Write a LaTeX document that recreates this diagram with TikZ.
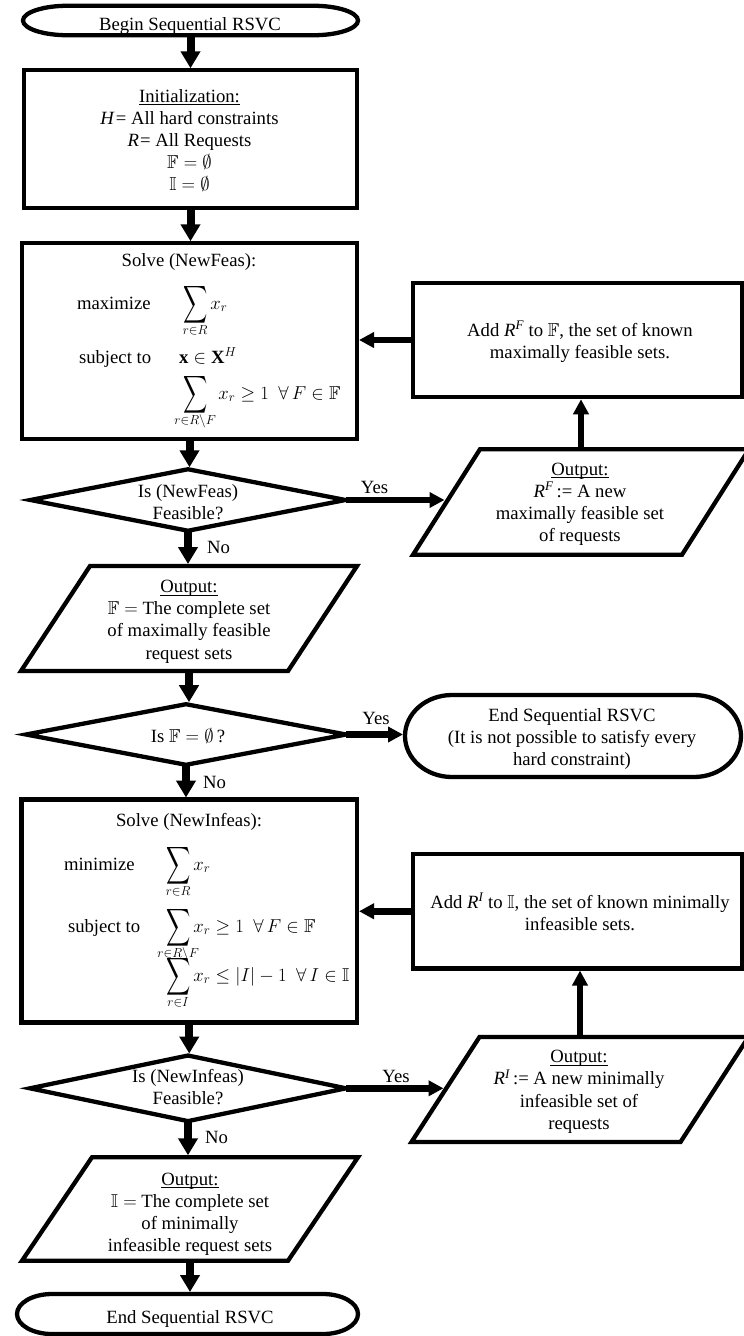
\documentclass[tikz,border=0pt]{standalone}
\usepackage{fix-cm}
\usepackage{amsmath,amssymb,mathtools}
\usepackage{graphicx}
\usepackage{fontspec}
\setmainfont{Liberation Serif}
\usetikzlibrary{arrows.meta}

\newsavebox\sigbox
\newcommand{\Bsum}[1]{\mathop{\sbox\sigbox{\scalebox{0.9}[1.4]{$\displaystyle\sum$}}%
  \vcenter{\hbox{\usebox\sigbox}}\kern-\wd\sigbox
  \makebox[\wd\sigbox]{\raisebox{-25pt}[0pt][0pt]{$\scriptstyle #1$}}}}
\newcommand{\ml}[1]{\begin{tabular}[t]{@{}c@{}}#1\end{tabular}}
\newcommand{\ul}[1]{\setbox0=\hbox{#1}\rlap{\rule[-3pt]{\wd0}{1pt}}\box0}
\newcommand{\termpath}[3]{%
  \draw[shp] ([xshift=#2]#1.north west) -- ([xshift=-#2]#1.north east)
    arc[start angle=90, end angle=-90, x radius=#2, y radius=#3]
    -- ([xshift=#2]#1.south west)
    arc[start angle=270, end angle=90, x radius=#2, y radius=#3] -- cycle;}
\newcommand{\parapath}[2]{%
  \draw[shp] ([xshift=#2]#1.north west) -- ([xshift=#2]#1.north east)
    -- ([xshift=-#2]#1.south east) -- ([xshift=-#2]#1.south west) -- cycle;}
\newcommand{\diapath}[1]{%
  \draw[shp] (#1.north) -- (#1.east) -- (#1.south) -- (#1.west) -- cycle;}

\tikzset{
  shp/.style={draw, line width=4.3pt, line join=miter},
  hlp/.style={inner sep=0pt, outer sep=0pt},
  box/.style={hlp, draw, line width=4.3pt},
  txt/.style={inner sep=0pt, outer sep=0pt, font=\fontsize{18.7}{22.2}\selectfont},
  arrM/.style={line width=8pt, -{Triangle[length=17pt,width=19pt]}, shorten >=2pt},
  arrS/.style={line width=6.5pt, -{Triangle[length=15pt,width=15pt]}, shorten >=2pt},
}

\begin{document}
\begin{tikzpicture}[x=1pt,y=-1pt]
\useasboundingbox (0,0) rectangle (744,1336);
\fill[white] (0,0) rectangle (744,1336);

% ---------- shapes ----------
\node[hlp, minimum width=335pt, minimum height=29.5pt] (begin) at (190.5,20.5) {};
\termpath{begin}{45pt}{14.75pt}

\node[box, minimum width=333pt, minimum height=137.5pt] (init) at (190.5,139) {};
\node[box, minimum width=335pt, minimum height=195.5pt] (solve1) at (189.5,341) {};

\node[hlp, minimum width=315pt, minimum height=61.5pt] (d1) at (188,500) {};
\diapath{d1}

\node[box, minimum width=329.5pt, minimum height=114.5pt] (add1) at (577.5,340) {};

\node[hlp, minimum width=269pt, minimum height=105.5pt] (p1) at (581,502) {};
\parapath{p1}{33.5pt}

\node[hlp, minimum width=267pt, minimum height=105pt] (p2) at (189,618.5) {};
\parapath{p2}{34.5pt}

\node[hlp, minimum width=320pt, minimum height=60.6pt] (d2) at (186,734.5) {};
\diapath{d2}

\node[hlp, minimum width=336pt, minimum height=82pt] (end1) at (573,736) {};
\termpath{end1}{47pt}{41pt}

\node[box, minimum width=335.5pt, minimum height=223pt] (solve2) at (189.25,911) {};

\node[hlp, minimum width=316pt, minimum height=65.6pt] (d3) at (188,1088.3) {};
\diapath{d3}

\node[box, minimum width=329pt, minimum height=114.5pt] (add2) at (577.5,911.25) {};

\node[hlp, minimum width=269pt, minimum height=105pt] (p3) at (580,1089.5) {};
\parapath{p3}{34pt}

\node[hlp, minimum width=266pt, minimum height=103.5pt] (p4) at (190,1209) {};
\parapath{p4}{35pt}

\node[hlp, minimum width=341pt, minimum height=40pt] (end2) at (187.5,1314) {};
\termpath{end2}{35pt}{20pt}

% ---------- texts ----------
\node[txt, anchor=base] (bt) at (190,30.5) {Begin Sequential RSVC};
\node[txt, anchor=base] (it) at (189.5,102) {\ml{\ul{Initialization:}\\
  \textit{H}\kern1pt= All hard constraints\\
  \textit{R}\kern1pt= All Requests\\
  $\mathbb{F} = \emptyset$\\
  $\mathbb{I} = \emptyset$}};

\node[txt, anchor=base] (s1t) at (189,266) {Solve (NewFeas):};
\node[txt, anchor=base west] (s1a) at (77,309) {maximize};
\node[txt, anchor=base west] (s1b) at (183,309) {$\Bsum{r\in R} x_r$};
\node[txt, anchor=base west] (s1c) at (79,363) {subject to};
\node[txt, anchor=base west] (s1d) at (179,363) {$\mathbf{x}\in\mathbf{X}^H$};
\node[txt, anchor=base west] (s1e) at (183,399) {$\Bsum{r\in R\setminus F}\hspace{8pt} x_r \ge 1\ \ \forall\, F\in\mathbb{F}$};

\node[txt, anchor=base] (a1t) at (580,336) {\ml{Add \textit{R\textsuperscript{F}} to $\mathbb{F}$, the set of known\\maximally feasible sets.}};
\node[txt, anchor=base] (d1t) at (188,497) {\ml{Is (NewFeas)\\Feasible?}};
\node[txt, anchor=base] (p1t) at (580,475) {\ml{\ul{Output:}\\
  \textit{R\textsuperscript{F}}\,:= A new\\
  maximally feasible set\\
  of requests}};
\node[txt, anchor=base] (p2t) at (189,592.5) {\ml{\ul{Output:}\\
  $\mathbb{F} =$\ The complete set\\
  of maximally feasible\\
  request sets}};
\node[txt, anchor=base] (d2t) at (188,742) {Is $\mathbb{F} = \emptyset$\,?};
\node[txt, anchor=base] (e1t) at (572,721) {\ml{End Sequential RSVC\\
  (It is not possible to satisfy every\\
  hard constraint)}};

\node[txt, anchor=base] (s2t) at (189,826) {Solve (NewInfeas):};
\node[txt, anchor=base west] (s2a) at (64,870) {minimize};
\node[txt, anchor=base west] (s2b) at (166,870) {$\Bsum{r\in R} x_r$};
\node[txt, anchor=base west] (s2c) at (68,932) {subject to};
\node[txt, anchor=base west] (s2d) at (166,932) {$\Bsum{r\in R\setminus F} x_r \ge 1\ \ \forall\, F\in\mathbb{F}$};
\node[txt, anchor=base west] (s2e) at (166,981) {$\Bsum{r\in I} x_r \le |I| - 1\ \ \forall\, I\in\mathbb{I}$};

\node[txt, anchor=base] (a2t) at (580,908) {\ml{Add \textit{R\textsuperscript{I}} to $\mathbb{I}$, the set of known minimally\\infeasible sets.}};
\node[txt, anchor=base] (d3t) at (188,1082) {\ml{Is (NewInfeas)\\Feasible?}};
\node[txt, anchor=base] (p3t) at (579,1062.7) {\ml{\ul{Output:}\\
  \textit{R\textsuperscript{I}}\,:= A new minimally\\
  infeasible set of\\
  requests}};
\node[txt, anchor=base] (p4t) at (190,1185) {\ml{\ul{Output:}\\
  $\mathbb{I} =$\ The complete set\\
  of minimally\\
  infeasible request sets}};
\node[txt, anchor=base] (e2t) at (190,1323) {End Sequential RSVC};

% ---------- labels ----------
\node[txt, anchor=base] (y1) at (374.5,493) {Yes};
\node[txt, anchor=base west] (n1) at (207,553) {No};
\node[txt, anchor=base] (y2) at (376,724) {Yes};
\node[txt, anchor=base west] (n2) at (203,788) {No};
\node[txt, anchor=base] (y3) at (396,1082) {Yes};
\node[txt, anchor=base west] (n3) at (205,1143) {No};

% ---------- connectors ----------
\draw[arrM] (begin.south) -- (begin.south |- init.north);
\draw[arrM] (init.south) -- (init.south |- solve1.north);
\draw[arrM] (solve1.south) -- (solve1.south |- d1.north);
\draw[arrS] (d1.east) -- (d1.east -| p1.west);
\draw[arrS] (p1.north) -- (p1.north |- add1.south);
\draw[arrS] (add1.west) -- (add1.west -| solve1.east);
\draw[arrM] (d1.south) -- (d1.south |- p2.north);
\draw[arrM] (p2.south) -- (p2.south |- d2.north);
\draw[arrS] (d2.east) -- (d2.east -| end1.west);
\draw[arrM] (d2.south) -- (d2.south |- solve2.north);
\draw[arrM] (solve2.south) -- (solve2.south |- d3.north);
\draw[arrS] (d3.east) -- (d3.east -| p3.west);
\draw[arrS] (p3.north) -- (p3.north |- add2.south);
\draw[arrS] (add2.west) -- (add2.west -| solve2.east);
\draw[arrM] (d3.south) -- (d3.south |- p4.north);
\draw[arrM] (p4.south) -- (p4.south |- end2.north);
\end{tikzpicture}
\end{document}
